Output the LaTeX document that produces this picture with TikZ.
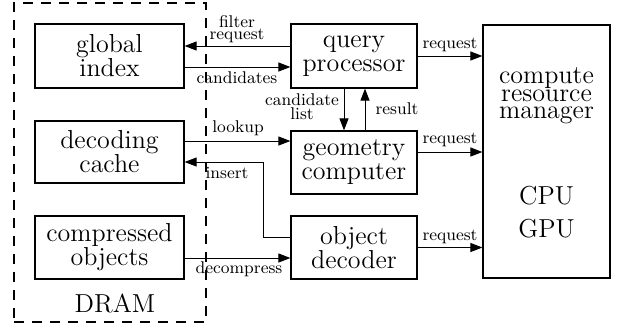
\documentclass[tikz,border=0pt]{standalone}
\usetikzlibrary{arrows.meta}
\begin{document}
\begin{tikzpicture}[x=0.5pt,y=-0.5pt,
  box/.style={draw, line width=0.6pt, inner sep=0pt, align=center,
    font=\fontsize{13}{12}\selectfont},
  bigtext/.style={inner sep=0pt, align=center},
  lbl/.style={inner sep=0pt, align=center, font=\fontsize{8.5}{4.5}\selectfont},
  link/.style={line width=0.5pt, -{Triangle[length=6pt,width=4.5pt]}},
]
\useasboundingbox[fill=white] (0,0) rectangle (624,327);

% memory region
\node[draw, dash pattern=on 5pt off 4pt, line width=0.6pt,
      minimum width=96pt, minimum height=159.5pt] (dram) at (110,162.5) {};
\node[bigtext, font=\fontsize{13}{12}\selectfont] (dramlbl) at (115,303) {DRAM};

% blocks inside memory
\node[box, minimum width=74.5pt, minimum height=32pt] (gi) at (109.5,56) {global\\index};
\node[box, minimum width=74.5pt, minimum height=31pt] (dc) at (109.5,152) {decoding\\cache};
\node[box, minimum width=74.5pt, minimum height=31.5pt] (co) at (109.5,247.5) {compressed\\objects};

% processing blocks
\node[box, minimum width=63pt, minimum height=32pt] (qp) at (354,56) {query\\processor};
\node[box, minimum width=63pt, minimum height=31.5pt] (gc) at (354,162.5) {geometry\\computer};
\node[box, minimum width=63pt, minimum height=31.5pt] (od) at (354,247.5) {object\\decoder};

% resource manager
\node[box, minimum width=63.5pt, minimum height=126.5pt] (crm) at (546.5,151.5) {};
\node[bigtext, font=\fontsize{13}{8.75}\selectfont] (crmname) at (546.5,96) {compute\\resource\\manager};
\node[bigtext, font=\fontsize{13}{16.5}\selectfont] (units) at (546.5,212.5) {CPU\\GPU};

% index traffic
\draw[link] ([yshift=5pt]qp.west) -- ([yshift=5pt]gi.east);
\draw[link] ([yshift=-5.5pt]gi.east) -- ([yshift=-5.5pt]qp.west);
\node[lbl] (lfilter) at (237,29) {filter\\request};
\node[lbl] (lcand) at (237,78) {candidates};

% cache traffic
\coordinate (lk) at ([yshift=5.5pt]dc.east);
\draw[link] (lk) -- (lk -| gc.west);
\node[lbl] (llookup) at (238,128) {lookup};
\coordinate (ins) at ([yshift=5.25pt]od.west);
\coordinate (insend) at ([yshift=-5pt]dc.east);
\draw[link] (ins) -- ++(-27,0) |- (insend);
\node[lbl] (linsert) at (227,173) {insert};

% decompression
\draw[link] ([yshift=-5.25pt]co.east) -- ([yshift=-5.25pt]od.west);
\node[lbl] (ldecomp) at (239,269) {decompress};

% query <-> geometry
\draw[link] ([xshift=-5pt]qp.south) -- ([xshift=-5pt]gc.north);
\draw[link] ([xshift=5.5pt]gc.north) -- ([xshift=5.5pt]qp.south);
\node[lbl] (lclist) at (302,107) {candidate\\list};
\node[lbl] (lresult) at (397,109) {result};

% requests to the resource manager
\draw[link] (qp.east) -- (qp.east -| crm.west);
\coordinate (gr) at ([yshift=5.25pt]gc.east);
\draw[link] (gr) -- (gr -| crm.west);
\draw[link] (od.east) -- (od.east -| crm.west);
\node[lbl] (lreq1) at (450,45) {request};
\node[lbl] (lreq2) at (450,140) {request};
\node[lbl] (lreq3) at (450,237) {request};
\end{tikzpicture}
\end{document}
